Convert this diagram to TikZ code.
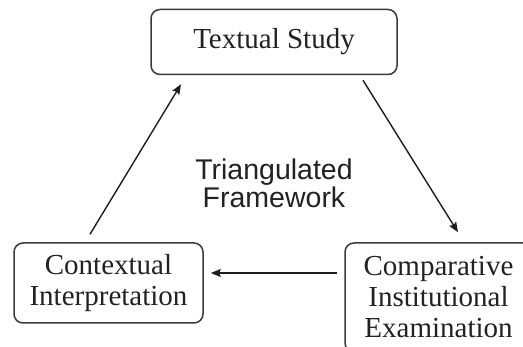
\documentclass[tikz,border=0pt]{standalone}
\usepackage{fontspec}
\setmainfont{Liberation Serif}
\newfontfamily\labelfont{Liberation Sans}
\usetikzlibrary{arrows.meta}
\definecolor{boxline}{HTML}{3A3A3A}
\definecolor{arrowline}{HTML}{1E1E1E}
\definecolor{ink}{HTML}{222222}

\begin{document}
\begin{tikzpicture}[x=1pt, y=-1pt,
  box/.style={draw=boxline, line width=1.5pt, rounded corners=9pt, inner sep=0pt,
    align=center, text=ink, font=\fontsize{29}{31}\selectfont},
  arr/.style={draw=arrowline, line width=1.4pt,
    -{Stealth[length=10pt, width=8pt, inset=1.5pt]}}]
  \useasboundingbox (0, 0) rectangle (523, 347);
  \clip (0, 0) rectangle (523, 347);

  % Boxes
  \node[box, minimum width=246pt, minimum height=65pt] (txt) at (274, 42) {Textual Study};
  \node[box, minimum width=189pt, minimum height=80pt] (ctx) at (108.5, 283)
    {Contextual\\Interpretation};
  \node[box, minimum width=187pt, minimum height=109pt] (cmp) at (438.5, 297.5)
    {Comparative\\Institutional\\Examination};

  % Centre label
  \node[text=ink, align=center, font=\labelfont\fontsize{28.5}{28}\selectfont] (mid) at (274, 183)
    {Triangulated\\Framework};

  % Arrows round the triangle
  \draw[arr] ([xshift=89pt, yshift=-5pt]txt.south) -- ([xshift=19.5pt, yshift=10pt]cmp.north);
  \draw[arr] ([xshift=-7pt, yshift=24.5pt]cmp.west) -- ([xshift=7pt, yshift=10pt]ctx.east);
  \draw[arr] ([xshift=-18.5pt, yshift=8pt]ctx.north) -- ([xshift=-93pt, yshift=-9pt]txt.south);
\end{tikzpicture}
\end{document}
